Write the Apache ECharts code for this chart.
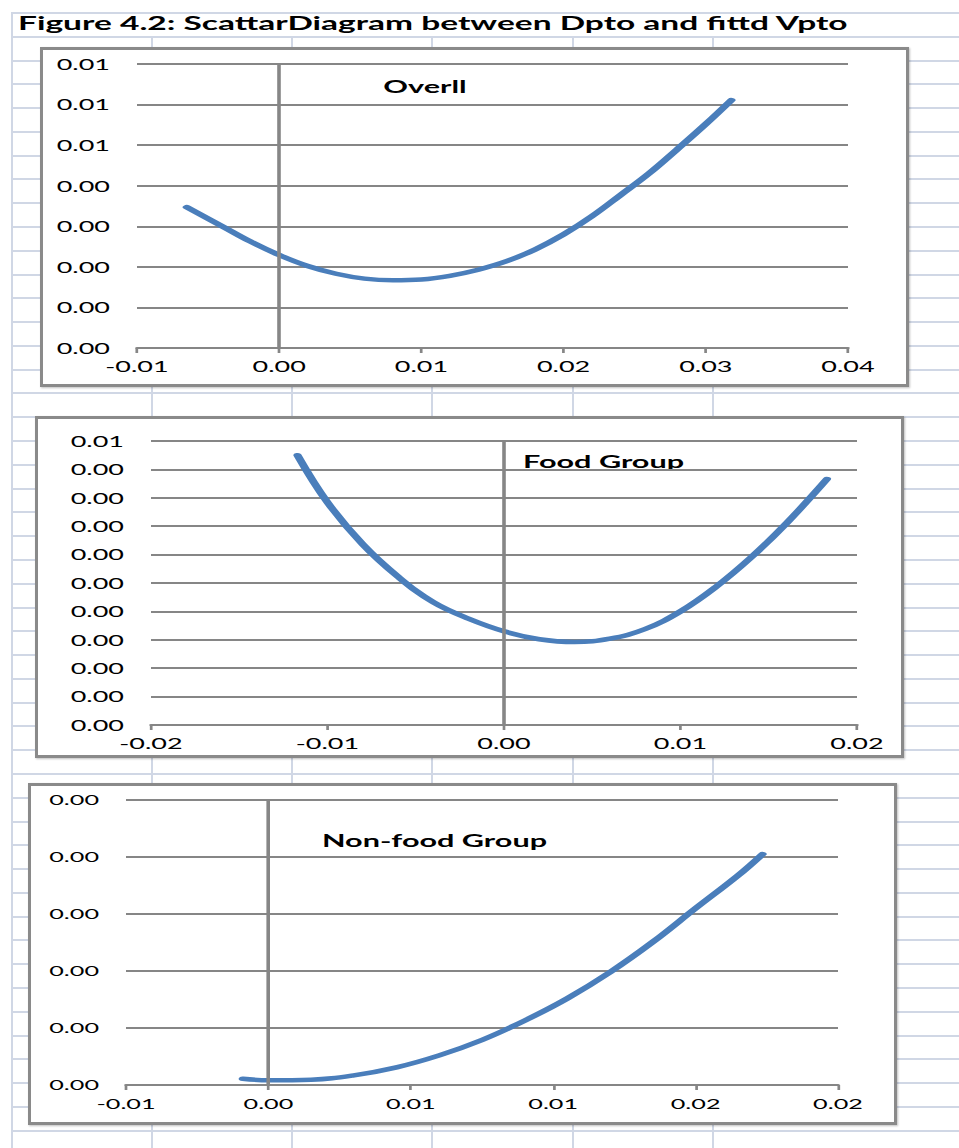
<!DOCTYPE html>
<html>
<head>
<meta charset="utf-8">
<script src="https://cdn.jsdelivr.net/npm/echarts@6/dist/echarts.min.js"></script>
<style>
  html, body { margin: 0; padding: 0; background: #fff; }
  body { width: 959px; height: 1148px; position: relative; overflow: hidden; }
  .hgrid { position: absolute; left: 12px; top: 12px; width: 947px; height: 1136px;
    background: repeating-linear-gradient(to bottom, #d0d7e5 0px, #d0d7e5 2px, transparent 2px, transparent 23.78px); }
  .vline { position: absolute; width: 2px; background: #d0d7e5; bottom: 0; }
  .titlecell { position: absolute; left: 14px; top: 14px; width: 945px; height: 21px; background: #fff; }
  .frame { position: absolute; box-sizing: border-box; background: #fff; border: 3px solid #8a8a8a;
    box-shadow: 1px 1px 2px rgba(0,0,0,0.25); }
  #chart { position: absolute; left: 0; top: 0; height: 1148px; transform-origin: 0 0; }
</style>
</head>
<body>
<div class="hgrid"></div>
<div class="titlecell"></div>
<div class="vline" style="left:11px;top:12px"></div>
<div class="vline" style="left:151px;top:37px"></div>
<div class="vline" style="left:291px;top:37px"></div>
<div class="vline" style="left:431px;top:37px"></div>
<div class="vline" style="left:572px;top:37px"></div>
<div class="vline" style="left:712px;top:37px"></div>
<div class="frame" style="left:40px;top:47px;width:869px;height:340px"></div>
<div class="frame" style="left:35px;top:416px;width:869px;height:342px"></div>
<div class="frame" style="left:28px;top:783px;width:869px;height:342px"></div>
<div id="chart"></div>
<script>
// ---- data ----
const figureTitle = 'Figure 4.2: ScattarDiagram between Dpto and fittd Vpto';
const panelNames = ['Overll', 'Food Group', 'Non-food Group'];

const overallX = [-0.0065, -0.004, -0.002, 0.000, 0.002, 0.004, 0.006, 0.008, 0.010, 0.012, 0.014, 0.016, 0.018, 0.020, 0.022, 0.024, 0.026, 0.028, 0.030, 0.0318];
const overallY = [0.00347, 0.00300, 0.00262, 0.00229, 0.00202, 0.00183, 0.00171, 0.00167, 0.00169, 0.00178, 0.00193, 0.00214, 0.00243, 0.00280, 0.00325, 0.00377, 0.00430, 0.00490, 0.00552, 0.00611];

const foodX = [-0.0117, -0.010, -0.008, -0.006, -0.004, -0.002, 0.000, 0.002, 0.004, 0.006, 0.008, 0.010, 0.012, 0.014, 0.016, 0.0183];
const foodY = [0.00475, 0.00392, 0.00318, 0.00261, 0.00216, 0.00187, 0.00165, 0.00151, 0.00146, 0.00152, 0.00169, 0.00200, 0.00243, 0.00295, 0.00355, 0.00433];

const nonfoodX = [-0.0009, 0.000, 0.0015, 0.003, 0.0045, 0.006, 0.0075, 0.009, 0.0105, 0.012, 0.0135, 0.015, 0.0165, 0.01735];
const nonfoodY = [0.0000110, 0.0000084, 0.0000094, 0.0000170, 0.0000310, 0.0000520, 0.0000790, 0.000113, 0.000152, 0.000198, 0.000251, 0.000310, 0.000368, 0.000405];

// axis settings: [min, max, interval]
const xAxes = [[-0.01, 0.04, 0.01], [-0.02, 0.02, 0.01], [-0.005, 0.02, 0.005]];
const yAxes = [[0, 0.007, 0.001], [0, 0.005, 0.0005], [0, 0.0005, 0.0001]];

// ---- layout ----
const S = 1.8; // horizontal stretch of the reference
const X = v => v / S;
const el = document.getElementById('chart');
el.style.width = (959 / S) + 'px';
el.style.transform = 'scaleX(' + S + ')';

function fmt(v) {
  const r = Math.round(Math.abs(v) * 1e9) / 1e9;
  const t = Math.floor(r * 100 + 0.5 + 1e-9) / 100;
  return (v < 0 && t > 0 ? '-' : '') + t.toFixed(2);
}
const pairs = (xs, ys) => xs.map((x, i) => [x, ys[i]]);

const grids = [
  { left: X(137), top: 64, width: X(711), height: 284 },
  { left: X(151), top: 441, width: X(706), height: 284 },
  { left: X(126), top: 800, width: X(712), height: 285 }
];
const labelSize = [15, 15, 14];
const gray = '#868686';
const font = 'Lato';

const option = {
  animation: false,
  grid: grids,
  xAxis: xAxes.map((a, i) => ({
    type: 'value', gridIndex: i, min: a[0], max: a[1], interval: a[2],
    axisLine: { show: true, onZero: false, lineStyle: { color: gray, width: 2 } },
    axisTick: { show: true, length: 5, lineStyle: { color: gray, width: 1.5 } },
    splitLine: { show: false },
    axisLabel: { formatter: fmt, color: '#000', fontFamily: font, fontSize: labelSize[i], margin: 11 }
  })),
  yAxis: yAxes.map((a, i) => ({
    type: 'value', gridIndex: i, min: a[0], max: a[1], interval: a[2],
    axisLine: { show: false }, axisTick: { show: false },
    splitLine: { show: true, lineStyle: { color: gray, width: 2 } },
    axisLabel: { formatter: fmt, color: '#000', fontFamily: font, fontSize: labelSize[i], margin: 15 }
  })),
  series: [pairs(overallX, overallY), pairs(foodX, foodY), pairs(nonfoodX, nonfoodY)].map((d, i) => ({
    type: 'line', xAxisIndex: i, yAxisIndex: i, data: d, smooth: 0.4, showSymbol: false,
    lineStyle: { color: '#4a7ebb', width: 4.5, cap: 'round' },
    itemStyle: { color: '#4a7ebb' },
    markLine: {
      silent: true, symbol: ['none', 'none'], label: { show: false },
      lineStyle: { color: gray, width: 2, type: 'solid' },
      data: [{ xAxis: 0 }]
    }
  })),
  graphic: [
    { type: 'text', left: X(18), top: 13, style: { text: figureTitle, fill: '#000', font: 'bold 18.6px Lato' } },
    { type: 'text', x: X(425), y: 86, style: { text: panelNames[0], fill: '#000', font: 'bold 17px Lato', textAlign: 'center', textVerticalAlign: 'middle' } },
    { type: 'text', x: X(523), y: 461, style: { text: panelNames[1], fill: '#000', font: 'bold 17px Lato', textAlign: 'left', textVerticalAlign: 'middle' } },
    { type: 'text', x: X(322), y: 840, style: { text: panelNames[2], fill: '#000', font: 'bold 17px Lato', textAlign: 'left', textVerticalAlign: 'middle' } }
  ]
};
const chart = echarts.init(el, null, { renderer: 'svg', width: 959 / S, height: 1148 });
chart.setOption(option);
</script>
</body>
</html>
